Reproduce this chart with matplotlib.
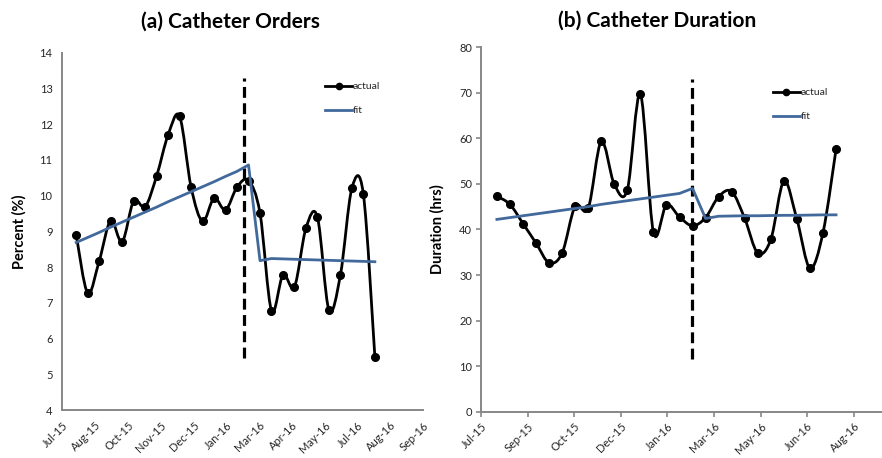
import numpy as np
import pandas as pd
import matplotlib
matplotlib.use("Agg")
import matplotlib.pyplot as plt
import matplotlib.dates as mdates
from matplotlib.path import Path
from matplotlib.patches import PathPatch
from matplotlib.lines import Line2D

plt.rcParams["font.family"] = ["Lato", "DejaVu Sans"]

# biweekly reporting periods
dates = pd.to_datetime([
    "2015-08-01", "2015-08-15", "2015-08-29", "2015-09-12", "2015-09-26",
    "2015-10-10", "2015-10-24", "2015-11-07", "2015-11-21", "2015-12-05",
    "2015-12-19", "2016-01-02", "2016-01-16", "2016-01-30", "2016-02-13",
    "2016-02-27", "2016-03-12", "2016-03-26", "2016-04-09", "2016-04-23",
    "2016-05-07", "2016-05-21", "2016-06-04", "2016-06-18", "2016-07-02",
    "2016-07-16", "2016-07-30",
])

# (a) catheter orders, percent
orders_actual = [8.90, 7.27, 8.17, 9.30, 8.71, 9.85, 9.69, 10.55, 11.70, 12.22,
                 10.24, 9.28, 9.93, 9.60, 10.24, 10.42, 9.51, 6.78, 7.78, 7.45,
                 9.09, 9.40, 6.80, 7.78, 10.21, 10.04, 5.49]
orders_fit = [8.69, 8.83, 8.97, 9.12, 9.26, 9.40, 9.54, 9.68, 9.83, 9.97,
              10.11, 10.25, 10.39, 10.54, 10.68, 10.86, 8.18, 8.24, 8.23, 8.22,
              8.21, 8.20, 8.19, 8.18, 8.17, 8.16, 8.15]

# (b) catheter duration, hours
duration_actual = [47.3, 45.5, 41.3, 37.0, 32.7, 34.8, 45.1, 44.6, 59.3, 49.9,
                   48.7, 69.7, 39.4, 45.4, 42.7, 40.8, 42.6, 47.2, 48.3, 42.4,
                   34.8, 37.8, 50.6, 42.2, 31.5, 39.3, 57.6]
duration_fit = [42.2, 42.6, 43.0, 43.4, 43.8, 44.2, 44.6, 45.0, 45.5, 45.9,
                46.3, 46.7, 47.1, 47.5, 47.9, 49.0, 42.4, 42.9, 42.95, 43.0,
                43.0, 43.05, 43.1, 43.1, 43.15, 43.2, 43.2]

# intervention dates (dashed markers)
orders_cut = "2016-02-21"
duration_cut = "2016-02-26"

FIT_BLUE = "#41699c"
AXIS_GREY = "#878787"
TEXT = "#262626"


def smooth_path(x, y):
    # Catmull-Rom style bezier through every point, like Excel's smoothed line
    pts = np.column_stack([x, y])
    n = len(pts)
    verts = [pts[0]]
    codes = [Path.MOVETO]
    for i in range(n - 1):
        p0 = pts[i - 1] if i > 0 else pts[i]
        p1 = pts[i]
        p2 = pts[i + 1]
        p3 = pts[i + 2] if i + 2 < n else pts[i + 1]
        verts += [p1 + (p2 - p0) / 6, p2 - (p3 - p1) / 6, p2]
        codes += [Path.CURVE4] * 3
    return Path(verts, codes)


def draw_panel(ax, actual, fit, cut, ylim, yticks, xmax, last_tick, step,
               ticks_out, cut_span, title, ylabel, leg_anchor):
    x = mdates.date2num(dates)
    ax.add_patch(PathPatch(smooth_path(x, actual), fill=False,
                           edgecolor="black", lw=2.0, zorder=3))
    ax.plot(x, actual, "o", color="black", ms=5.5, zorder=4)
    ax.plot(x, fit, color=FIT_BLUE, lw=2.0, zorder=5)

    c = mdates.date2num(pd.Timestamp(cut))
    ax.plot([c, c], cut_span, color="black", lw=2.3,
            linestyle=(0, (3.4, 1.7)), zorder=2)

    start = pd.Timestamp("2015-07-15")
    ax.set_xlim(mdates.date2num(start), mdates.date2num(pd.Timestamp(xmax)))
    ax.set_ylim(*ylim)
    ax.set_yticks(yticks)
    tick_dates = pd.date_range(start, last_tick, freq=f"{step}D")
    ax.set_xticks(mdates.date2num(tick_dates))
    ax.xaxis.set_major_formatter(mdates.DateFormatter("%b-%y"))
    for lab in ax.get_xticklabels():
        lab.set_rotation(45)
        lab.set_ha("right")
        lab.set_rotation_mode("anchor")

    for side in ("top", "right"):
        ax.spines[side].set_visible(False)
    for side in ("left", "bottom"):
        ax.spines[side].set_color(AXIS_GREY)
        ax.spines[side].set_linewidth(1.4)
    if ticks_out:
        ax.tick_params(length=3.5, width=1.2, color=AXIS_GREY, direction="out",
                       pad=3)
    else:
        ax.tick_params(length=0, pad=7)
    ax.tick_params(labelsize=8, labelcolor=TEXT)

    ax.set_ylabel(ylabel, fontsize=10.5, fontweight="bold", color="black")
    ax.set_title(title, fontsize=15, fontweight="bold", color="black")

    handles = [
        Line2D([], [], color="black", lw=2.0, marker="o", ms=4.5),
        Line2D([], [], color=FIT_BLUE, lw=2.0),
    ]
    ax.legend(handles, ["actual", "fit"], loc="upper left",
              bbox_to_anchor=leg_anchor, frameon=False, fontsize=7.5,
              handlelength=2.6, handletextpad=0.05, labelspacing=1.4,
              borderpad=0, borderaxespad=0, labelcolor=TEXT)


fig = plt.figure(figsize=(8.82, 4.58), dpi=100)
ax1 = fig.add_axes([0.0706, 0.1048, 0.4093, 0.780])
ax2 = fig.add_axes([0.5454, 0.1011, 0.4754, 0.7959])

draw_panel(ax1, orders_actual, orders_fit, orders_cut, (4, 14), range(4, 15),
           "2016-09-27", "2016-09-27", 40, False, (5.46, 13.29),
           "(a) Catheter Orders", "Percent (%)", (0.728, 0.918))
draw_panel(ax2, duration_actual, duration_fit, duration_cut, (0, 80),
           range(0, 81, 10), "2016-10-07", "2016-08-18", 50, True,
           (11.5, 73.0), "(b) Catheter Duration", "Duration (hrs)",
           (0.696, 0.888))

ax1.yaxis.set_label_coords(-0.10, 0.5)
ax2.yaxis.set_label_coords(-0.088, 0.5)
ax1.set_title(ax1.get_title(), fontsize=15, fontweight="bold", pad=18,
              x=0.465)
ax2.set_title(ax2.get_title(), fontsize=15, fontweight="bold", pad=15,
              x=0.42)

fig.savefig("out.png", dpi=100)
